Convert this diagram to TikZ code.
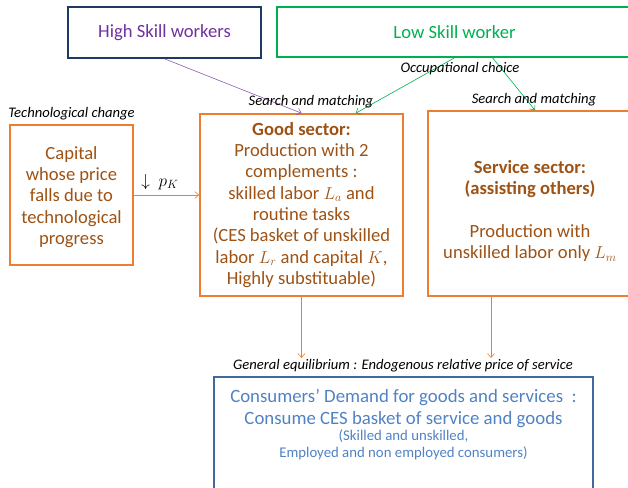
\documentclass[tikz,border=0pt]{standalone}
\usepackage{fontspec}
\setmainfont{Carlito}
\usepackage{amsmath}
\usetikzlibrary{arrows.meta, positioning, calc}
\definecolor{navyColor}{RGB}{31,56,100}
\definecolor{skillColor}{RGB}{112,48,160}
\definecolor{lowColor}{RGB}{0,176,80}
\definecolor{sectorColor}{RGB}{237,125,49}
\definecolor{sectorText}{RGB}{158,82,20}
\definecolor{demandLine}{RGB}{65,105,155}
\definecolor{demandText}{RGB}{80,130,195}
\newcommand{\smalldemand}{\fontsize{14.8}{17.5}\selectfont}
\begin{document}
\begin{tikzpicture}[x=1pt, y=-1pt,
        box/.style={rectangle, draw, line width=1.6pt, align=center, inner sep=0pt, font=\fontsize{18.6}{21.3}\selectfont},
        note/.style={font=\fontsize{14.6}{16}\selectfont\itshape, inner sep=1pt},
        arrow/.style={-{Straight Barb[length=4pt,width=7pt]}, line width=0.6pt}
    ]
        \useasboundingbox (0,0) rectangle (628,487);
        
        % Workers
        \node[box, draw=navyColor, text=skillColor, minimum width=193pt, minimum height=51pt] (high) at (164.5,32.5) {High Skill workers};
        \node[box, draw=lowColor, text=lowColor, minimum width=355pt, minimum height=50pt] (low) at (454.5,32) {Low Skill worker};
        
        % Capital
        \node[box, draw=sectorColor, text=sectorText, minimum width=123pt, minimum height=140pt] (capital) at (71.5,195) {\rule{0pt}{17pt}Capital\\whose price\\falls due to\\technological\\progress};
        \node[note, above=3pt of capital] (techchange) {Technological change};
        
        % Sectors
        \node[box, draw=sectorColor, text=sectorText, minimum width=203pt, minimum height=182pt] (good) at (301.5,205) {\textbf{Good sector:}\\Production with 2\\complements :\\skilled labor $L_a$ and\\routine tasks\\(CES basket of unskilled\\labor $L_r$ and capital $K$,\\Highly substituable)};
        \node[box, draw=sectorColor, text=sectorText, minimum width=204pt, minimum height=185pt] (service) at (530,203.5) {\rule{0pt}{28pt}\textbf{Service sector:}\\\textbf{(assisting others)}\\[21.3pt]Production with\\unskilled labor only $L_m$};
        
        % Consumers
        \node[box, draw=demandLine, minimum width=379pt, minimum height=123pt] (demand) at (403.5,438.5) {};
        \node[below=13pt of demand.north, align=center, text=demandText, inner sep=0pt, font=\fontsize{18.8}{22}\selectfont] (demandtxt) {Consumers’ Demand for goods and services\ \ :\\Consume CES basket of service and goods\\[-6pt]\smalldemand(Skilled and unskilled,\\[-5pt]\smalldemand Employed and non employed consumers)};
        
        % Free ends
        \coordinate (goodend) at (301.5,358);
        \coordinate (serviceend) at (491,358);
        
        % Arrows
        \draw[arrow, skillColor!80!white] (high.south) -- (good.north);
        \draw[arrow, lowColor] (low.south) -- ($(good.north)!0.53!(good.north east)$);
        \draw[arrow, lowColor] ($(low.south)+(38,0)$) -- ($(service.north)+(5,0)$);
        \draw[arrow, sectorColor] (capital.east) -- (capital.east -| good.west);
        \draw[arrow, sectorColor] (good.south) -- (goodend);
        \draw[arrow, sectorColor] (service.south -| serviceend) -- (serviceend);
        
        % Labels
        \node[note] (occupation) at (460,69) {Occupational choice};
        \node[note] (searchgood) at (311,102) {Search and matching};
        \node[note] (searchservice) at (534,99.5) {Search and matching};
        \node[font=\fontsize{17}{18}\selectfont] (price) at (160,182) {$\downarrow\ p_K$};
        \node[note] (equilibrium) at (403,365.5) {General equilibrium\ : Endogenous relative price of service};
    \end{tikzpicture}
\end{document}
